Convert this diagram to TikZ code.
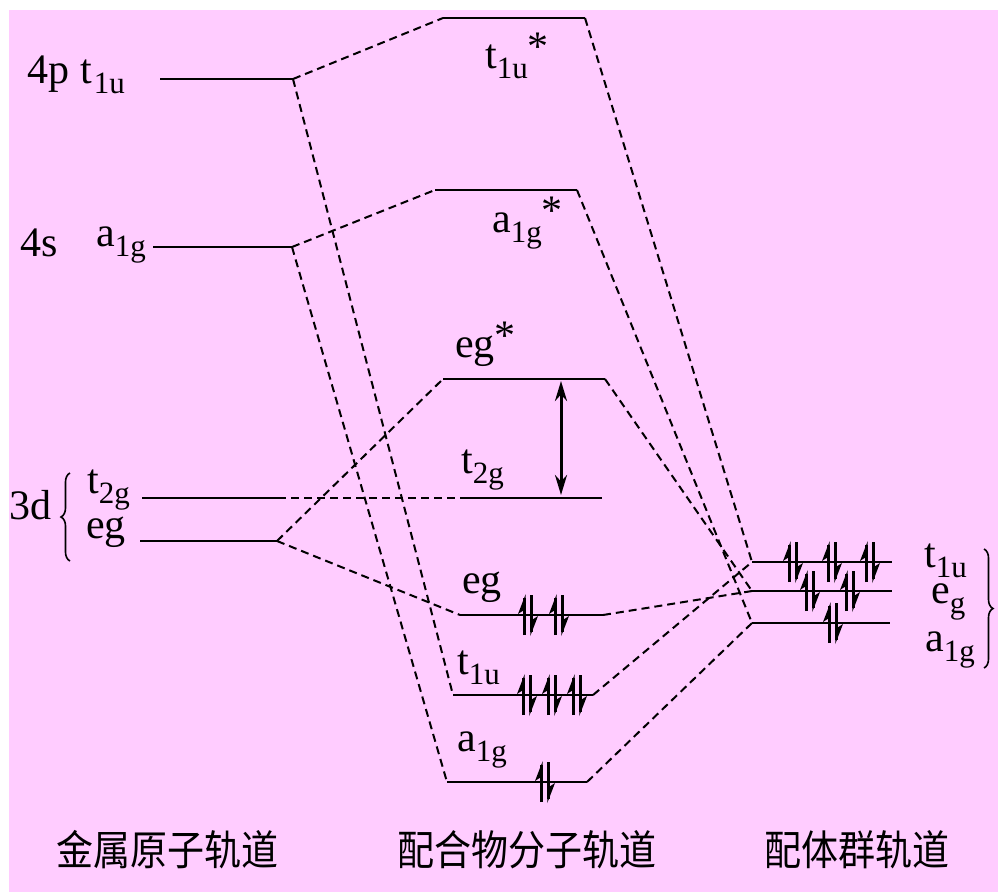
\documentclass[tikz,border=0pt]{standalone}
\usepackage{fontspec}
\setmainfont{Liberation Serif}
\newfontfamily\cjk{Noto Sans CJK SC}
\usetikzlibrary{arrows.meta,decorations.pathreplacing}
\definecolor{bgpink}{RGB}{255,204,255}
\newcommand\sbs[1]{\raisebox{-0.25em}{\fontsize{31}{31}\selectfont #1}}
\newcommand\stp{\raisebox{0.18em}{*}}
\begin{document}
\begin{tikzpicture}[x=1pt,y=-1pt,
  lvl/.style={line width=2.5pt},
  dsh/.style={line width=2pt, dash pattern=on 8pt off 5pt},
  lab/.style={font=\fontsize{42}{46}\selectfont, inner sep=0pt, anchor=base west},
  cn/.style={font=\cjk\fontsize{37}{40}\selectfont, inner sep=0pt, yscale=1.12, transform shape},
  epair/.pic={
    \draw[line width=3pt] (-3.8,20) -- (-3.8,-17);
    \fill (-2.3,-21) -- (-10,-1) -- (-2.3,-6) -- cycle;
    \draw[line width=3pt] (3.8,-20) -- (3.8,17);
    \fill (2.3,21) -- (10,1) -- (2.3,6) -- cycle;
  }]
\useasboundingbox (0,0) rectangle (998,892);
\fill[bgpink] (9,10) rectangle (998,892);

% metal levels
\coordinate (m4pL) at (160,79); \coordinate (m4pR) at (293,79);
\coordinate (m4sL) at (153,247); \coordinate (m4sR) at (292,247);
\coordinate (mt2L) at (142,498); \coordinate (mt2R) at (278,498);
\coordinate (megL) at (140,541); \coordinate (megR) at (277,541);
% MO levels
\coordinate (t1usL) at (443,18); \coordinate (t1usR) at (585,18);
\coordinate (a1gsL) at (435,190); \coordinate (a1gsR) at (577,190);
\coordinate (egsL) at (443,379); \coordinate (egsR) at (605,379);
\coordinate (t2L) at (463,498); \coordinate (t2R) at (602,498);
\coordinate (egbL) at (460,615); \coordinate (egbR) at (603,615);
\coordinate (t1bL) at (453,695); \coordinate (t1bR) at (593,695);
\coordinate (a1bL) at (447,782); \coordinate (a1bR) at (587,782);
% ligand levels
\coordinate (lt1L) at (752,562); \coordinate (lt1R) at (892,562);
\coordinate (legL) at (752,591); \coordinate (legR) at (892,591);
\coordinate (la1L) at (752,623); \coordinate (la1R) at (890,623);

\foreach \n in {m4p,m4s,mt2,meg,t1us,a1gs,egs,t2,egb,t1b,a1b,lt1,leg,la1}
  \draw[lvl] (\n L) -- (\n R);

% dashed correlation lines
\draw[dsh] (m4pR) -- (t1usL);
\draw[dsh] (m4pR) -- (t1bL);
\draw[dsh] (m4sR) -- (a1gsL);
\draw[dsh] (m4sR) -- (a1bL);
\draw[dsh] (megR) -- (egsL);
\draw[dsh] (megR) -- (egbL);
\draw[dsh] (mt2R) -- (t2L);
\draw[dsh] (t1usR) -- (lt1L);
\draw[dsh] (t1bR) -- (lt1L);
\draw[dsh] (a1gsR) -- (la1L);
\draw[dsh] (a1bR) -- (la1L);
\draw[dsh] (egsR) -- (legL);
\draw[dsh] (egbR) -- (legL);

% splitting arrow
\coordinate (arT) at (561,381); \coordinate (arB) at (561,495);
\draw[line width=3pt, {Stealth[length=20pt,width=12pt]}-{Stealth[length=20pt,width=12pt]}] (arT) -- (arB);

% electrons
\foreach \x in {793,832,870} \pic at (\x,562) {epair};
\foreach \x in {810,850} \pic at (\x,591) {epair};
\pic at (833,623) {epair};
\foreach \x in {528,559} \pic at (\x,615) {epair};
\foreach \x in {527,552,577} \pic at (\x,695) {epair};
\pic at (545,782) {epair};

% metal labels
\node[lab] (l4p) at (27,83) {4p};
\node[lab] (l4pt) at (80,83) {t\hspace{2pt}\sbs{1u}};
\node[lab] (l4s) at (20,256) {4s};
\node[lab] (l4sa) at (96,246) {a\sbs{1g}};
\node[lab] (l3d) at (9,519) {3d};
\coordinate (brLb) at (70,561); \coordinate (brLt) at (70,473);
\draw[line width=1.6pt, decorate, decoration={brace, amplitude=9pt}] (brLb) -- (brLt);
\node[lab] (lt2m) at (87,493) {t\sbs{2g}};
\node[lab] (legm) at (86,538) {eg};

% MO labels
\node[lab] (lt1us) at (485,68) {t\sbs{1u}\stp};
\node[lab] (la1gs) at (492,232) {a\sbs{1g}\stp};
\node[lab] (legs) at (455,357) {eg\stp};
\node[lab] (lt2) at (461,473) {t\sbs{2g}};
\node[lab] (legb) at (462,593) {eg};
\node[lab] (lt1b) at (457,674) {t\sbs{1u}};
\node[lab] (la1b) at (457,751) {a\sbs{1g}};

% ligand labels
\node[lab] (llt1) at (924,567) {t\sbs{1u}};
\node[lab] (lleg) at (931,603) {e\sbs{g}};
\node[lab] (lla1) at (925,651) {a\sbs{1g}};
\coordinate (brRt) at (984,549); \coordinate (brRb) at (984,668);
\draw[line width=1.6pt, decorate, decoration={brace, amplitude=9pt}] (brRt) -- (brRb);

% column titles
\node[cn] (c1) at (167,850) {金属原子轨道};
\node[cn] (c2) at (527,850) {配合物分子轨道};
\node[cn] (c3) at (857,850) {配体群轨道};
\end{tikzpicture}
\end{document}
